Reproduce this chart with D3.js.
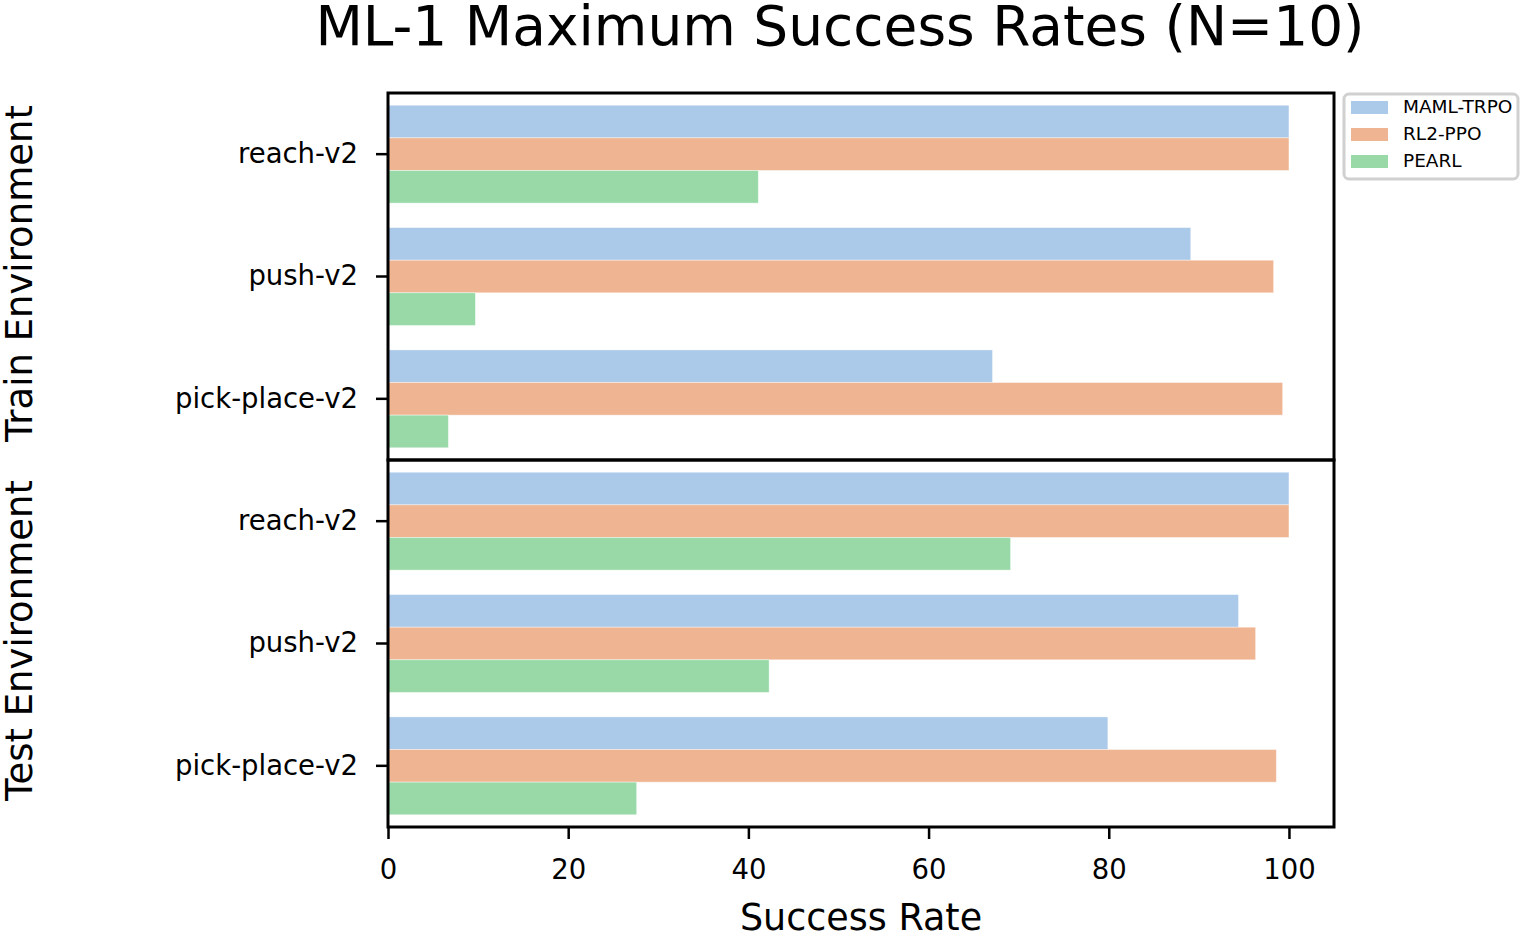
<!DOCTYPE html>
<html><head><meta charset="utf-8">
<script src="https://cdn.jsdelivr.net/npm/d3@7"></script>
<style>body{margin:0;background:#fff;} svg{font-family:"DejaVu Sans",sans-serif;}</style>
</head><body>
<svg id="c" width="1521" height="933"></svg>
<script>
const tasks = ["reach-v2", "push-v2", "pick-place-v2"];
const series = ["MAML-TRPO", "RL2-PPO", "PEARL"];
const colors = ["#abc9e9", "#efb592", "#98d9a7"];
const trainMAML = [100, 89.1, 67.1];
const trainRL2 = [100, 98.3, 99.3];
const trainPEARL = [41.1, 9.7, 6.7];
const testMAML = [100, 94.4, 79.9];
const testRL2 = [100, 96.3, 98.6];
const testPEARL = [69.1, 42.3, 27.6];
const xTicks = [0, 20, 40, 60, 80, 100];

const panels = [
  {label: "Train Environment", vals: [trainMAML, trainRL2, trainPEARL], y0: 93, y1: 460},
  {label: "Test Environment", vals: [testMAML, testRL2, testPEARL], y0: 460, y1: 827}
];

const svg = d3.select("#c");
const L = 388, R = 1334;
const x = d3.scaleLinear().domain([0, 105]).range([L, R]);

svg.append("text").attr("x", 840).attr("y", 45).attr("text-anchor", "middle")
  .attr("font-size", 55).attr("fill", "#000").text("ML-1 Maximum Success Rates (N=10)");

panels.forEach((p, pi) => {
  const y = d3.scaleBand().domain(tasks).range([p.y0, p.y1]).paddingInner(0.2).paddingOuter(0.1);
  const yInner = d3.scaleBand().domain(series).range([0, y.bandwidth()]);
  const g = svg.append("g");
  tasks.forEach((t, ti) => {
    series.forEach((s, si) => {
      g.append("rect")
        .attr("x", x(0)).attr("y", y(t) + yInner(s))
        .attr("width", x(p.vals[si][ti]) - x(0)).attr("height", yInner.bandwidth())
        .attr("fill", colors[si]).attr("stroke", "#fff").attr("stroke-opacity", 0.5).attr("stroke-width", 0.8);
    });
  });
  const ya = d3.axisLeft(y).tickSize(12).tickPadding(18);
  const ag = svg.append("g").attr("transform", `translate(${L},0)`).call(ya);
  ag.select(".domain").remove();
  ag.selectAll(".tick line").attr("stroke", "#000").attr("stroke-width", 2.5);
  ag.selectAll(".tick text").attr("font-size", 27.5).attr("fill", "#000")
    .attr("font-family", "DejaVu Sans");
  svg.append("rect").attr("x", L).attr("y", p.y0).attr("width", R - L).attr("height", p.y1 - p.y0)
    .attr("fill", "none").attr("stroke", "#000").attr("stroke-width", 3);
  svg.append("text").attr("transform", `translate(32,${(p.y0 + p.y1) / 2 - 3}) rotate(-90)`)
    .attr("text-anchor", "middle").attr("font-size", 37).attr("fill", "#000").text(p.label);
});

const xa = d3.axisBottom(x).tickValues(xTicks).tickSize(12).tickPadding(20);
const xg = svg.append("g").attr("transform", `translate(0,${827})`).call(xa);
xg.select(".domain").remove();
xg.selectAll(".tick line").attr("stroke", "#000").attr("stroke-width", 2.5);
xg.selectAll(".tick text").attr("font-size", 27.5).attr("fill", "#000").attr("font-family", "DejaVu Sans");

svg.append("text").attr("x", 861).attr("y", 930).attr("text-anchor", "middle")
  .attr("font-size", 36.5).attr("fill", "#000").text("Success Rate");

// legend
const lg = svg.append("g");
lg.append("rect").attr("x", 1344).attr("y", 94).attr("width", 174).attr("height", 85).attr("rx", 5)
  .attr("fill", "#fff").attr("stroke", "#d0d0d0").attr("stroke-width", 3);
series.forEach((s, i) => {
  const yy = 107 + i * 27;
  lg.append("rect").attr("x", 1351).attr("y", yy - 6).attr("width", 37).attr("height", 13).attr("fill", colors[i]);
  lg.append("text").attr("x", 1403).attr("y", yy + 6).attr("font-size", 18.5).attr("fill", "#000").text(s);
});
</script>
</body></html>
